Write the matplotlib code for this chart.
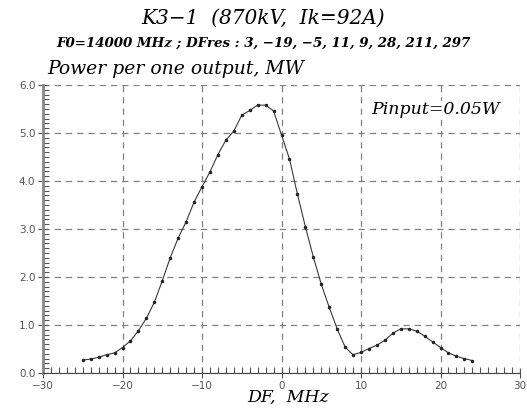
import numpy as np
import matplotlib
matplotlib.use('Agg')
import matplotlib.pyplot as plt
from matplotlib.ticker import MultipleLocator

# detuning, MHz
df = list(range(-25, 25))
# power per one output, MW
power = [0.27, 0.29, 0.33, 0.38, 0.42, 0.53, 0.67, 0.88, 1.14, 1.47,
         1.92, 2.40, 2.81, 3.15, 3.56, 3.88, 4.19, 4.55, 4.85, 5.04,
         5.37, 5.47, 5.58, 5.58, 5.46, 4.96, 4.46, 3.73, 3.05, 2.42,
         1.85, 1.37, 0.92, 0.54, 0.38, 0.43, 0.51, 0.58, 0.68, 0.83,
         0.92, 0.92, 0.875, 0.77, 0.65, 0.53, 0.42, 0.35, 0.30, 0.26]

title = 'K3\u22121  (870kV,  Ik=92A)'
subtitle = 'F0=14000 MHz ; DFres : 3, \u221219, \u22125, 11, 9, 28, 211, 297'
ylab = 'Power per one output, MW'
xlab = 'DF,  MHz'
note = 'Pinput=0.05W'

fnt = 'DejaVu Serif'

fig = plt.figure(figsize=(5.27, 4.08), dpi=100)
ax = fig.add_axes([43/527, 1 - 373/408, 477/527, 288/408])

ax.plot(df, power, color='#3a3a3a', lw=0.8, marker='.', ms=3, mfc='#222222', mec='#222222')

ax.xaxis.set_minor_locator(MultipleLocator(1))
ax.yaxis.set_minor_locator(MultipleLocator(0.1))
xt = np.arange(-30, 31, 10)
yt = np.arange(0, 7, 1)
ax.set_xticks(xt)
ax.set_xticklabels([('%d' % v).replace('-', '\u2212') for v in xt])
ax.set_yticks(yt)
ax.set_yticklabels(['%.1f' % v for v in yt])
ax.set_xlim(-30, 30)
ax.set_ylim(0, 6)

ax.grid(True, which='major', color='#808080', linestyle=(0, (5, 4)), lw=0.9)
for s in ['top', 'right']:
    ax.spines[s].set_visible(False)
ax.spines['left'].set_linewidth(2)
ax.spines['left'].set_color('#888888')
ax.spines['bottom'].set_linewidth(0.8)
ax.spines['bottom'].set_color('#444444')

ax.tick_params(which='major', direction='inout', length=7, width=0.8, color='#555555',
               labelsize=7.5, labelcolor='#555555')
ax.tick_params(which='minor', direction='in', length=4, width=0.8, color='#555555')
ax.tick_params(axis='x', pad=2)
ax.tick_params(axis='y', pad=2)

fig.text(0.5, 0.955, title, ha='center', va='center', family=fnt,
         style='italic', fontsize=14.5)
fig.text(0.5, 0.895, subtitle, ha='center', va='center', family=fnt,
         style='italic', weight='bold', fontsize=9.6)
fig.text(0.09, 0.83, ylab, ha='left', va='center', family=fnt,
         style='italic', fontsize=13.5)
ax.text(0.958, 0.915, note, transform=ax.transAxes, ha='right', va='center',
        family=fnt, style='italic', fontsize=12.5,
        bbox=dict(facecolor='white', edgecolor='none', pad=0))
fig.text(0.547, 0.025, xlab, ha='center', va='center', family=fnt,
         style='italic', fontsize=12.5)

fig.savefig('out.png', dpi=100, facecolor='white')
